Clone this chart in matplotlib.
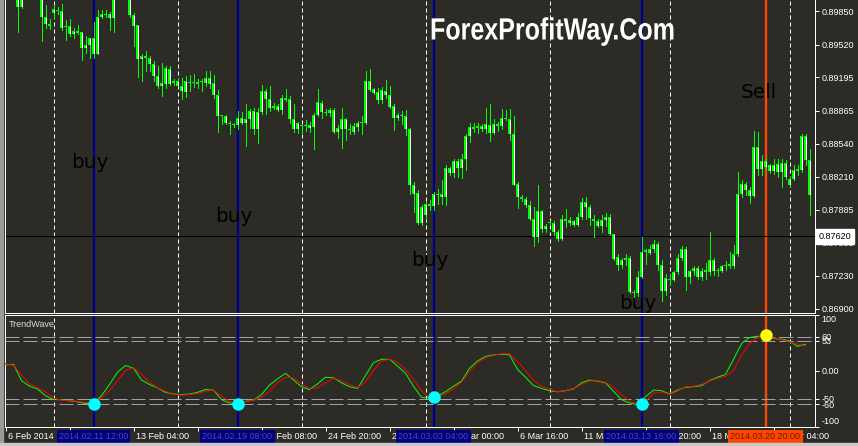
import numpy as np
import matplotlib
matplotlib.use('Agg')
import matplotlib.pyplot as plt
from matplotlib.transforms import blended_transform_factory, Affine2D
from matplotlib.patches import Rectangle, PathPatch
from matplotlib.textpath import TextPath
from matplotlib.font_manager import FontProperties

# H4 candles, prices in units of 0.0001 (8996 -> 0.8996)
open_pts = [
    9021, 9016, 9008, 9001, 8989, 8999, 9006, 9014, 9011, 9004,
    8979, 8973, 8983, 8986, 8985, 8970, 8971, 8963, 8966, 8965,
    8949, 8952, 8959, 8943, 8979, 8982, 8978, 8978, 8999, 9008,
    9016, 9004, 8981, 8972, 8938, 8941, 8939, 8933, 8921, 8911,
    8913, 8928, 8914, 8916, 8911, 8905, 8915, 8914, 8913, 8915,
    8914, 8919, 8914, 8902, 8881, 8881, 8874, 8873, 8872, 8879,
    8874, 8878, 8886, 8868, 8885, 8906, 8898, 8889, 8891, 8887,
    8899, 8898, 8878, 8868, 8871, 8871, 8869, 8870, 8882, 8894,
    8885, 8884, 8887, 8865, 8868, 8878, 8868, 8865, 8870, 8874,
    8874, 8916, 8908, 8905, 8897, 8906, 8902, 8891, 8879, 8881,
    8881, 8868, 8813, 8805, 8775, 8783, 8794, 8792, 8804, 8801,
    8801, 8830, 8825, 8837, 8830, 8839, 8861, 8870, 8869, 8871,
    8868, 8872, 8864, 8873, 8871, 8879, 8878, 8863, 8814, 8801,
    8799, 8793, 8779, 8761, 8787, 8769, 8775, 8775, 8766, 8759,
    8779, 8778, 8777, 8773, 8781, 8796, 8791, 8779, 8777, 8772,
    8778, 8781, 8764, 8742, 8734, 8739, 8741, 8707, 8706, 8722,
    8746, 8745, 8749, 8754, 8734, 8708, 8719, 8719, 8727, 8741,
    8749, 8722, 8728, 8731, 8722, 8727, 8727, 8739, 8728, 8728,
    8733, 8733, 8733, 8744, 8804, 8814, 8808, 8802, 8851, 8829,
    8837, 8833, 8827, 8834, 8826, 8835, 8819, 8819, 8827, 8828,
    8861, 8838]
high_pts = [
    9026, 9020, 9011, 9004, 9002, 9010, 9018, 9020, 9016, 9008,
    8991, 8977, 8991, 8989, 8992, 8976, 8977, 8969, 8972, 8965,
    8961, 8959, 8974, 8986, 8986, 8986, 8984, 9004, 9012, 9021,
    9022, 9008, 8983, 8972, 8943, 8946, 8941, 8936, 8931, 8934,
    8931, 8931, 8918, 8918, 8919, 8921, 8922, 8923, 8918, 8918,
    8926, 8926, 8922, 8907, 8882, 8882, 8876, 8874, 8886, 8885,
    8893, 8888, 8889, 8889, 8912, 8908, 8911, 8894, 8893, 8902,
    8908, 8901, 8893, 8875, 8873, 8877, 8875, 8884, 8908, 8896,
    8888, 8889, 8889, 8872, 8889, 8879, 8873, 8874, 8876, 8881,
    8926, 8928, 8909, 8909, 8910, 8917, 8911, 8893, 8884, 8886,
    8887, 8869, 8816, 8808, 8793, 8796, 8798, 8806, 8809, 8818,
    8833, 8831, 8839, 8839, 8844, 8863, 8874, 8874, 8874, 8873,
    8889, 8893, 8878, 8875, 8888, 8887, 8888, 8881, 8816, 8803,
    8801, 8797, 8791, 8813, 8788, 8774, 8777, 8777, 8768, 8783,
    8789, 8781, 8778, 8785, 8800, 8801, 8793, 8783, 8779, 8783,
    8785, 8784, 8764, 8744, 8741, 8744, 8743, 8709, 8728, 8761,
    8749, 8753, 8758, 8756, 8739, 8725, 8724, 8728, 8744, 8752,
    8751, 8729, 8733, 8733, 8731, 8736, 8766, 8741, 8731, 8734,
    8738, 8746, 8753, 8826, 8818, 8816, 8811, 8866, 8865, 8843,
    8839, 8834, 8839, 8839, 8839, 8838, 8821, 8833, 8833, 8863,
    8863, 8849]
low_pts = [
    9011, 9004, 8998, 8965, 8988, 8997, 9002, 9006, 9000, 8956,
    8969, 8968, 8978, 8982, 8967, 8957, 8961, 8959, 8963, 8937,
    8944, 8939, 8939, 8943, 8978, 8979, 8967, 8965, 8997, 9004,
    9000, 8979, 8951, 8920, 8916, 8926, 8926, 8916, 8909, 8901,
    8909, 8912, 8912, 8911, 8898, 8900, 8906, 8910, 8909, 8906,
    8911, 8909, 8899, 8865, 8873, 8873, 8863, 8870, 8868, 8873,
    8852, 8869, 8863, 8855, 8883, 8883, 8886, 8888, 8886, 8883,
    8896, 8874, 8865, 8864, 8864, 8866, 8865, 8849, 8881, 8879,
    8882, 8881, 8864, 8859, 8850, 8858, 8863, 8863, 8866, 8863,
    8873, 8906, 8903, 8894, 8894, 8899, 8889, 8867, 8877, 8873,
    8862, 8804, 8786, 8774, 8773, 8779, 8788, 8788, 8794, 8794,
    8793, 8823, 8821, 8821, 8820, 8828, 8856, 8865, 8864, 8866,
    8864, 8857, 8863, 8866, 8868, 8877, 8858, 8813, 8790, 8797,
    8791, 8778, 8752, 8756, 8766, 8766, 8773, 8763, 8757, 8758,
    8771, 8773, 8772, 8772, 8779, 8779, 8773, 8761, 8771, 8766,
    8772, 8763, 8739, 8729, 8731, 8734, 8706, 8697, 8703, 8721,
    8735, 8744, 8746, 8729, 8698, 8704, 8715, 8718, 8725, 8739,
    8709, 8716, 8724, 8720, 8719, 8720, 8724, 8724, 8723, 8727,
    8729, 8731, 8731, 8743, 8801, 8803, 8795, 8801, 8823, 8823,
    8828, 8825, 8824, 8821, 8811, 8819, 8812, 8818, 8823, 8826,
    8833, 8783]
close_pts = [
    9016, 9008, 9001, 8989, 8999, 9006, 9014, 9011, 9004, 8979,
    8973, 8971, 8987, 8985, 8969, 8971, 8963, 8966, 8964, 8949,
    8952, 8959, 8943, 8979, 8982, 8981, 8982, 8999, 9008, 9016,
    9004, 8981, 8971, 8938, 8941, 8939, 8933, 8921, 8911, 8914,
    8929, 8913, 8916, 8911, 8906, 8916, 8914, 8914, 8915, 8915,
    8919, 8913, 8902, 8881, 8881, 8874, 8873, 8872, 8879, 8874,
    8878, 8886, 8868, 8885, 8906, 8898, 8889, 8891, 8887, 8899,
    8897, 8878, 8868, 8874, 8871, 8871, 8872, 8882, 8895, 8885,
    8884, 8887, 8865, 8869, 8878, 8868, 8867, 8871, 8874, 8875,
    8916, 8907, 8904, 8897, 8907, 8902, 8890, 8879, 8882, 8881,
    8868, 8813, 8804, 8775, 8791, 8794, 8792, 8804, 8803, 8804,
    8830, 8825, 8837, 8830, 8839, 8861, 8870, 8868, 8871, 8868,
    8873, 8864, 8873, 8871, 8879, 8878, 8863, 8813, 8801, 8799,
    8793, 8779, 8761, 8787, 8769, 8772, 8775, 8766, 8759, 8779,
    8777, 8775, 8773, 8781, 8796, 8791, 8780, 8777, 8772, 8778,
    8781, 8764, 8740, 8734, 8739, 8741, 8707, 8706, 8722, 8746,
    8748, 8749, 8754, 8734, 8708, 8721, 8719, 8727, 8741, 8749,
    8722, 8728, 8731, 8722, 8728, 8729, 8739, 8728, 8729, 8733,
    8734, 8735, 8744, 8804, 8814, 8808, 8802, 8851, 8829, 8837,
    8831, 8827, 8833, 8826, 8835, 8821, 8813, 8828, 8829, 8861,
    8838, 8803]

# TrendWave indicator, read every second bar
wave_bars = list(range(0, 201, 2))
wave_fast = [
    10, 11, -18, -28, -33, -45, -52, -52, -54, -56,
    -59, -58, -45, -25, -3, 9, 4, -17, -25, -31,
    -39, -42, -43, -42, -39, -34, -35, -52, -58, -60,
    -55, -53, -43, -26, -15, -5, -17, -29, -34, -24,
    -12, -13, -22, -29, -32, -9, 14, 20, 20, 8,
    -5, -28, -48, -49, -45, -38, -28, -19, 4, 17,
    25, 28, 29, 28, 2, -12, -27, -32, -36, -38,
    -36, -33, -22, -17, -19, -22, -37, -52, -58, -61,
    -47, -35, -36, -42, -35, -30, -29, -27, -18, -12,
    -7, 20, 48, 59, 61, 62, 57, 56, 53, 43,
    47]
wave_slow = [
    12, 9, -8, -24, -31, -38, -49, -53, -54, -55,
    -57, -58, -49, -36, -18, 0, 5, -7, -21, -31,
    -37, -43, -44, -43, -41, -37, -35, -46, -55, -57,
    -55, -53, -48, -37, -22, -12, -13, -24, -32, -31,
    -22, -14, -18, -25, -30, -21, 0, 17, 20, 15,
    2, -16, -36, -49, -47, -42, -33, -21, -2, 14,
    23, 27, 30, 30, 16, 0, -17, -28, -34, -38,
    -36, -32, -25, -19, -18, -21, -30, -43, -55, -59,
    -55, -41, -38, -43, -37, -29, -28, -25, -19, -14,
    -11, 0, 27, 48, 59, 62, 58, 55, 51, 47,
    44]
wave_levels = [60, 53, -50, -60]

buy_bars = [22, 58, 107, 159]
buy_times = ['2014.02.11 12:00', '2014.02.19 08:00', '2014.03.03 04:00', '2014.03.13 16:00']
buy_wave = [-59, -59, -48, -59]
buy_label_price = [0.8835, 0.8782, 0.8738, 0.8695]
sell_bars = [190]
sell_times = ['2014.03.20 20:00']
sell_wave = [63]
sell_label_price = [0.8905]

separator_bars = [12, 43, 74, 105, 136, 166, 196]
hline_price = 0.87620
price_ticks = [0.89850, 0.89520, 0.89195, 0.88865, 0.88540,
               0.88210, 0.87885, 0.87555, 0.87230, 0.86900]
time_ticks = list(range(0, 193, 16))
time_labels = ['6 Feb 2014', '10 Feb 12:00', '13 Feb 04:00', '17 Feb 20:00',
               '20 Feb 08:00', '24 Feb 20:00', '27 Feb 12:00', '4 Mar 00:00',
               '6 Mar 16:00', '11 Mar 08:00', '13 Mar 20:00', '18 Mar 12:00',
               '21 Mar 04:00']

BG = '#2c2b26'
CANDLE = '#00ff00'
NAVY = '#00008b'
ORANGE = '#ff4500'
PX = 0.72          # one pixel in points
PRICE_PX = 0.0000993  # one pixel of the price scale

o = np.array(open_pts) / 1e4
h = np.array(high_pts) / 1e4
l = np.array(low_pts) / 1e4
c = np.array(close_pts) / 1e4
bars = np.arange(len(c))

plt.rcParams['font.family'] = ['Liberation Sans', 'DejaVu Sans']

W, H = 858, 446
fig = plt.figure(figsize=(W / 100, H / 100), dpi=100)
fig.patch.set_facecolor(BG)


def px_axes(x0, y0, x1, y1):
    return fig.add_axes([x0 / W, 1 - y1 / H, (x1 - x0) / W, (y1 - y0) / H])


ax = px_axes(4.5, 0, 814.5, 312.5)
axi = px_axes(4.5, 314.5, 814.5, 426.5)

for a in (ax, axi):
    a.set_facecolor(BG)
    a.set_xlim(-0.25, 202.25)
    for s in a.spines.values():
        s.set_color('white')
        s.set_linewidth(PX)
ax.spines['top'].set_visible(False)

ax.set_ylim(0.86865, 0.89963)
axi.set_ylim(-100, 100)

# vertical markers through both panels
for a in (ax, axi):
    for b in separator_bars:
        a.axvline(b, color='white', lw=PX, ls=(0, (4, 3)), zorder=1)
    for b in buy_bars:
        a.axvline(b, color=NAVY, lw=1.7, zorder=1)
    for b in sell_bars:
        a.axvline(b, color=ORANGE, lw=1.7, zorder=1)

# candles: green wick, green body 3px wide with a white core
lo_b = np.minimum(o, c)
hi_b = np.maximum(o, c)
body = np.maximum(hi_b - lo_b, PRICE_PX)
ax.vlines(bars, l, h, color=CANDLE, lw=PX, zorder=3, antialiased=False)
ax.bar(bars, body, bottom=lo_b, width=0.75, color=CANDLE,
       linewidth=0, zorder=4, antialiased=False)
tall = (hi_b - lo_b) > 2.5 * PRICE_PX
ax.vlines(bars[tall], lo_b[tall] + PRICE_PX, hi_b[tall] - PRICE_PX,
          color='white', lw=PX, zorder=5, antialiased=False)
ax.axhline(hline_price, color='black', lw=PX, zorder=2)

for b, p in zip(buy_bars, buy_label_price):
    ax.text(b - 1, p, 'buy', fontsize=14.4, family='DejaVu Sans',
            color='black', ha='center', va='center', zorder=6)
for b, p in zip(sell_bars, sell_label_price):
    ax.text(b - 1.8, p, 'Sell', fontsize=14.4, family='DejaVu Sans',
            color='black', ha='center', va='center', zorder=6)

# condensed bold watermark
title_path = TextPath((0, 0), 'ForexProfitWay.Com', size=30.7,
                      prop=FontProperties(family='Liberation Sans', weight='bold'))
title_tr = Affine2D().scale(0.816, 1.0).translate(430, H - 39.5)
fig.add_artist(PathPatch(title_path, transform=title_tr, color='white', lw=0, zorder=10))

# price scale
ax.yaxis.tick_right()
ax.set_yticks(price_ticks)
ax.set_yticklabels(['%.5f' % p for p in price_ticks])
ax.tick_params(axis='y', colors='white', length=3, width=PX, labelsize=6.5, pad=2)
ax.set_xticks([])
rt = blended_transform_factory(ax.transAxes, ax.transData)
ax.annotate('%.5f' % hline_price, xy=(1, hline_price), xycoords=rt,
            xytext=(3, 0), textcoords='offset points', fontsize=6.5,
            color='black', va='center', ha='left', annotation_clip=False,
            bbox=dict(boxstyle='square,pad=0.35', fc='white', ec='white'), zorder=8)

# indicator
for lv in wave_levels:
    axi.axhline(lv, color='#a0a0a8', lw=PX, ls=(0, (14, 4)), zorder=1)
axi.plot(wave_bars, wave_fast, color='#00ff00', lw=PX, zorder=3)
axi.plot(wave_bars, wave_slow, color='#ff0000', lw=PX, zorder=3)
axi.plot(buy_bars, buy_wave, 'o', color='#00ffff', ms=9, mec='none', zorder=5)
axi.plot(sell_bars, sell_wave, 'o', color='#ffff00', ms=9, mec='none', zorder=5)
axi.text(0.005, 0.95, 'TrendWave', transform=axi.transAxes, color='#dcdcdc',
         fontsize=6.5, va='top', ha='left')

wave_ticks = [100, 60, 53, 0, -50, -60, -100]
axi.yaxis.tick_right()
axi.set_yticks(wave_ticks)
axi.set_yticklabels(['100', '60', '53', '0.00', '-50', '-60', '-100'])
axi.tick_params(axis='y', colors='white', length=3, width=PX, labelsize=6.5, pad=2)
tl = axi.get_yticklabels()
tl[0].set_va('top')
tl[-1].set_va('bottom')

# time scale
axi.set_xticks(time_ticks)
axi.set_xticklabels([])
axi.tick_params(axis='x', colors='white', length=3, width=PX)
bt = blended_transform_factory(axi.transData, axi.transAxes)
for t, lab in zip(time_ticks, time_labels):
    axi.annotate(lab, xy=(t, 0), xycoords=bt, xytext=(1.5, -7.5),
                 textcoords='offset points', color='white', fontsize=6.5,
                 ha='left', va='center', annotation_clip=False, zorder=3)
for b, lab in zip(buy_bars, buy_times):
    axi.annotate(lab, xy=(b, 0), xycoords=bt, xytext=(0, -7.5),
                 textcoords='offset points', color='#4b4ba0', fontsize=6.5,
                 ha='center', va='center', annotation_clip=False, zorder=7,
                 bbox=dict(boxstyle='square,pad=0.25', fc='#000080', ec='none'))
for b, lab in zip(sell_bars, sell_times):
    axi.annotate(lab, xy=(b, 0), xycoords=bt, xytext=(0, -7.5),
                 textcoords='offset points', color='#6b1f00', fontsize=6.5,
                 ha='center', va='center', annotation_clip=False, zorder=7,
                 bbox=dict(boxstyle='square,pad=0.25', fc=ORANGE, ec='none'))

# window frame
fig.patches.append(Rectangle((0, 0), 3 / W, 1, transform=fig.transFigure,
                             color='#9a9a9a', zorder=0))
fig.patches.append(Rectangle((0, 0), 1, 3 / H, transform=fig.transFigure,
                             color='#c8c8c8', zorder=0))

fig.savefig('out.png', dpi=100, facecolor=BG)
